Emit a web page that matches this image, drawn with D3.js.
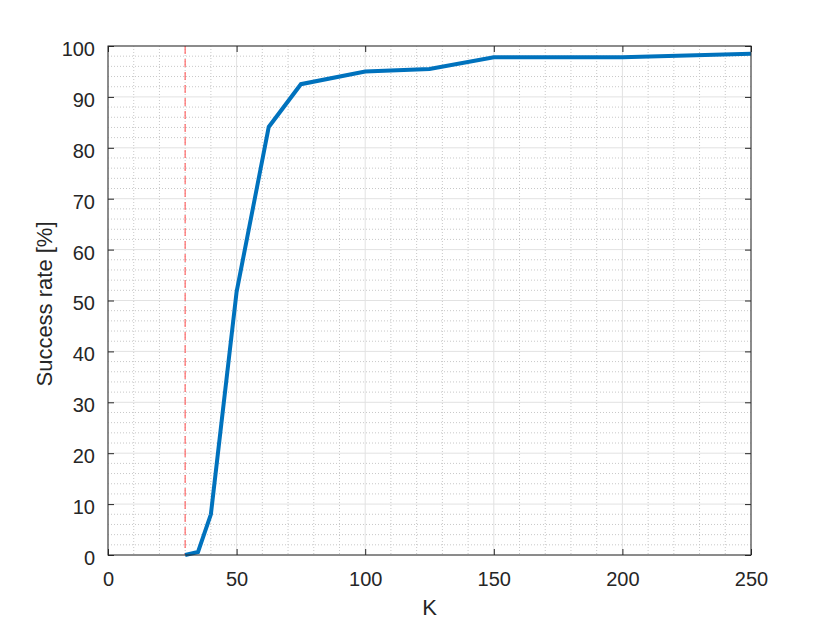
<!DOCTYPE html>
<html><head><meta charset="utf-8">
<script src="https://cdn.jsdelivr.net/npm/d3@7"></script>
<style>body{margin:0;background:#fff}svg{display:block}text{font-family:"Liberation Sans",Arial,sans-serif;fill:#262626}</style>
</head><body><svg id="c" width="830" height="623"></svg>
<script>
const kValues = [30, 35, 40, 50, 62.5, 75, 100, 125, 150, 200, 250];
const successRate = [0, 0.6, 8, 51.7, 84.1, 92.5, 95, 95.5, 97.8, 97.8, 98.5];
const xTicks = [0, 50, 100, 150, 200, 250];
const yTicks = [0, 10, 20, 30, 40, 50, 60, 70, 80, 90, 100];
const thresholdK = 30;

const svg = d3.select("#c");
const L = 108, R = 751, T = 46, B = 555;
const x = d3.scaleLinear().domain([0, 250]).range([L, R]);
const y = d3.scaleLinear().domain([0, 100]).range([B, T]);
const g = svg.append("g");

// minor grid
g.selectAll(".mx").data(d3.range(0, 251, 10).filter(v => v % 50 !== 0)).enter().append("line")
  .attr("x1", d => x(d)).attr("x2", d => x(d)).attr("y1", T).attr("y2", B)
  .attr("stroke", "#c8c8c8").attr("stroke-width", 1).attr("stroke-dasharray", "1,2");
g.selectAll(".my").data(d3.range(0, 101, 2).filter(v => v % 10 !== 0)).enter().append("line")
  .attr("y1", d => y(d)).attr("y2", d => y(d)).attr("x1", L).attr("x2", R)
  .attr("stroke", "#c8c8c8").attr("stroke-width", 1).attr("stroke-dasharray", "1,2");
// major grid
g.selectAll(".gx").data(xTicks).enter().append("line")
  .attr("x1", d => x(d)).attr("x2", d => x(d)).attr("y1", T).attr("y2", B)
  .attr("stroke", "#e2e2e2").attr("stroke-width", 1);
g.selectAll(".gy").data(yTicks).enter().append("line")
  .attr("y1", d => y(d)).attr("y2", d => y(d)).attr("x1", L).attr("x2", R)
  .attr("stroke", "#e2e2e2").attr("stroke-width", 1);

// threshold
g.append("line").attr("x1", x(thresholdK)).attr("x2", x(thresholdK)).attr("y1", T).attr("y2", B)
  .attr("stroke", "#ff5a5a").attr("stroke-opacity", 0.85).attr("stroke-width", 1.3).attr("stroke-dasharray", "8,5");

// data line
const line = d3.line().x((d, i) => x(kValues[i])).y(d => y(d));
g.append("path").datum(successRate).attr("d", line).attr("fill", "none")
  .attr("stroke", "#0072BD").attr("stroke-width", 4).attr("stroke-linejoin", "miter");

// axes
const ax = d3.axisBottom(x).tickValues(xTicks).tickSize(-6).tickPadding(16.5);
const ay = d3.axisLeft(y).tickValues(yTicks).tickSize(-6).tickPadding(13);
const axT = d3.axisTop(x).tickValues(xTicks).tickSize(-6).tickFormat("");
const ayR = d3.axisRight(y).tickValues(yTicks).tickSize(-6).tickFormat("");
function style(sel) {
  sel.selectAll("path").attr("stroke", "#262626").attr("stroke-width", 1);
  sel.selectAll("line").attr("stroke", "#262626");
  sel.selectAll("text").style("font-size", "20px").attr("fill", "#262626");
}
svg.append("g").attr("transform", `translate(0,${B})`).call(ax).call(style);
svg.append("g").attr("transform", `translate(${L},0)`).call(ay).call(style)
  .selectAll("text").attr("dy", "0.47em");
svg.append("g").attr("transform", `translate(0,${T})`).call(axT).call(style);
svg.append("g").attr("transform", `translate(${R},0)`).call(ayR).call(style);
svg.selectAll(".domain").attr("d", null);
svg.append("rect").attr("x", L).attr("y", T).attr("width", R - L).attr("height", B - T)
  .attr("fill", "none").attr("stroke", "#262626").attr("stroke-width", 1);

svg.append("text").attr("x", (L + R) / 2).attr("y", 615).attr("text-anchor", "middle")
  .style("font-size", "22px").text("K");
svg.append("text").attr("transform", `translate(52,304) rotate(-90)`).attr("text-anchor", "middle")
  .style("font-size", "22px").text("Success rate [%]");
</script></body></html>
